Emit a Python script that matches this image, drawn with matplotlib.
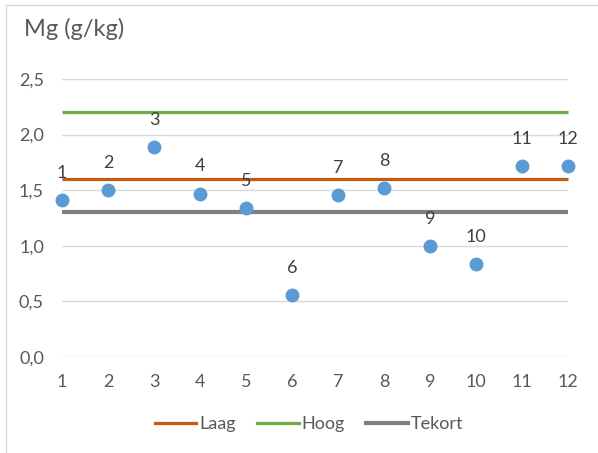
import matplotlib
matplotlib.use("Agg")
import matplotlib.pyplot as plt
from matplotlib.lines import Line2D
from matplotlib.patches import Rectangle

plt.rcParams['font.family'] = ['Lato', 'DejaVu Sans']

samples = [1, 2, 3, 4, 5, 6, 7, 8, 9, 10, 11, 12]
mg_values = [1.41, 1.50, 1.89, 1.47, 1.34, 0.56, 1.46, 1.52, 1.00, 0.84, 1.72, 1.72]

laag = 1.6
hoog = 2.2
tekort = 1.3

y_ticks = [0.0, 0.5, 1.0, 1.5, 2.0, 2.5]
y_tick_labels = ["0,0", "0,5", "1,0", "1,5", "2,0", "2,5"]

fig = plt.figure(figsize=(5.98, 4.53), dpi=100)
ax = fig.add_axes([62 / 598, 1 - 357 / 453, (568 - 62) / 598, (357 - 79) / 453])

# chart border
fig.patches.append(Rectangle((6 / 598, -0.05), 1.2, 1 - 5 / 453 + 0.05,
                             transform=fig.transFigure, fill=False,
                             edgecolor="#D9D9D9", linewidth=1))

ax.set_xlim(1, 12)
ax.set_ylim(0, 2.5)
ax.set_yticks(y_ticks)
ax.set_yticklabels(y_tick_labels)
ax.set_xticks(samples)
ax.set_xticklabels([str(s) for s in samples])
ax.yaxis.grid(True, color="#D9D9D9", linewidth=1)
ax.set_axisbelow(True)
for s in ax.spines.values():
    s.set_visible(False)
ax.tick_params(axis="both", length=0, labelsize=13, colors="#595959")
ax.tick_params(axis="y", pad=13)
ax.tick_params(axis="x", pad=12)

ax.plot([1, 12], [laag, laag], color="#C55A11", linewidth=2.3, solid_capstyle="butt",
        clip_on=False, zorder=3)
ax.plot([1, 12], [hoog, hoog], color="#70AD47", linewidth=2.3, solid_capstyle="butt",
        clip_on=False, zorder=3)
ax.plot([1, 12], [tekort, tekort], color="#7F7F7F", linewidth=3, solid_capstyle="butt",
        clip_on=False, zorder=3)

ax.plot(samples, mg_values, linestyle="none", marker="o", markersize=9,
        color="#5B9BD5", clip_on=False, zorder=4)
for x, y in zip(samples, mg_values):
    ax.annotate(str(x), (x, y), xytext=(0, 19.5), textcoords="offset points",
                ha="center", va="center", fontsize=13, color="#404040", zorder=5)

fig.text(24 / 598, 1 - 29 / 453, "Mg (g/kg)", fontsize=17, color="#595959",
         ha="left", va="center")

handles = [Line2D([], [], color="#C55A11", linewidth=2.3),
           Line2D([], [], color="#70AD47", linewidth=2.3),
           Line2D([], [], color="#7F7F7F", linewidth=3)]
fig.legend(handles, ["Laag", "Hoog", "Tekort"], loc="center",
           bbox_to_anchor=(309 / 598, 1 - 424 / 453), ncol=3, frameon=False,
           fontsize=13, handlelength=2.3, handletextpad=0.15, columnspacing=1.2,
           labelcolor="#595959")

fig.savefig("out.png", dpi=100)
